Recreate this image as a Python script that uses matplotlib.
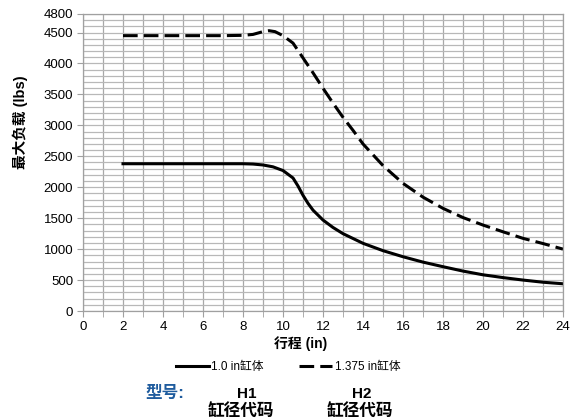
import numpy as np
import matplotlib.pyplot as plt
from matplotlib.ticker import MultipleLocator, FixedLocator

plt.rcParams['font.family'] = ['Liberation Sans', 'Noto Sans CJK SC', 'DejaVu Sans']

# stroke (in) vs max load (lbs)
stroke_h1 = [2, 3, 4, 5, 6, 7, 8, 8.5, 9, 9.5, 10, 10.5, 10.75, 11, 11.25, 11.5, 12,
             12.5, 13, 14, 15, 16, 17, 18, 19, 20, 21, 22, 23, 24]
load_h1 = [2380, 2380, 2380, 2380, 2380, 2380, 2380, 2375, 2360, 2330, 2270, 2150, 2020,
           1870, 1740, 1630, 1470, 1350, 1250, 1094, 975, 877, 790, 716, 645, 585, 540,
           500, 465, 440]

stroke_h2 = [2, 3, 4, 5, 6, 7, 8, 8.5, 9, 9.3, 9.6, 10, 10.5, 11, 11.5, 12, 12.5, 13,
             13.5, 14, 15, 16, 17, 18, 19, 20, 21, 22, 23, 24]
load_h2 = [4450, 4450, 4450, 4450, 4450, 4450, 4455, 4470, 4515, 4530, 4515, 4450, 4330,
           4090, 3850, 3600, 3360, 3130, 2920, 2700, 2350, 2063, 1840, 1659, 1510, 1389,
           1280, 1174, 1090, 1000]

labels = ['1.0 in缸体', '1.375 in缸体']
y_ticks = [0, 500, 1000, 1500, 2000, 2500, 3000, 3500, 4000, 4500, 4800]

fig = plt.figure(figsize=(5.82, 4.19), dpi=100)
ax = fig.add_axes([83 / 582, 1 - 311 / 419, 480 / 582, 297 / 419])

ax.plot(stroke_h1, load_h1, color='black', lw=2.2, label=labels[0])
ax.plot(stroke_h2, load_h2, color='black', lw=2.2, dashes=(4.8, 2.0), label=labels[1])

ax.set_xlim(0, 24)
ax.set_ylim(0, 4800)
ax.xaxis.set_major_locator(MultipleLocator(2))
ax.xaxis.set_minor_locator(MultipleLocator(1))
ax.yaxis.set_major_locator(FixedLocator(y_ticks))
ax.yaxis.set_minor_locator(MultipleLocator(100))

ax.grid(which='both', axis='x', color='#a8a8a8', lw=0.9)
ax.grid(which='both', axis='y', color='#b8b8b8', lw=0.9)
ax.set_axisbelow(True)
for s in ax.spines.values():
    s.set_color('#a0a0a0')
    s.set_linewidth(0.9)

ax.tick_params(which='major', labelsize=9.5, length=4, color='#a0a0a0', pad=3)
ax.tick_params(which='minor', length=4, color='#a0a0a0')
ax.tick_params(axis='y', which='minor', length=0)

fig.text(20 / 582, 1 - 122 / 419, '最大负载 (lbs)', rotation=90, ha='center', va='center',
         fontsize=10.5, fontweight='bold')
fig.text(301 / 582, 1 - 344 / 419, '行程 (in)', ha='center', va='center',
         fontsize=10, fontweight='bold')

ax.legend(loc='center', bbox_to_anchor=(288 / 582, 1 - 367 / 419), bbox_transform=fig.transFigure,
          ncol=2, frameon=False, fontsize=8.5, handlelength=2.8, handletextpad=0.2,
          columnspacing=3.0)

fig.text(165 / 582, 1 - 393 / 419, '型号:', ha='center', va='center', fontsize=12,
         fontweight='bold', color='#1f5c9e')
for cx, cx2, code in [(247, 241, 'H1'), (362, 360, 'H2')]:
    fig.text(cx / 582, 1 - 394 / 419, code, ha='center', va='center', fontsize=11,
             fontweight='bold')
    fig.text(cx2 / 582, 1 - 411 / 419, '缸径代码', ha='center', va='center', fontsize=12,
             fontweight='bold')

fig.savefig('out.png', dpi=100)
